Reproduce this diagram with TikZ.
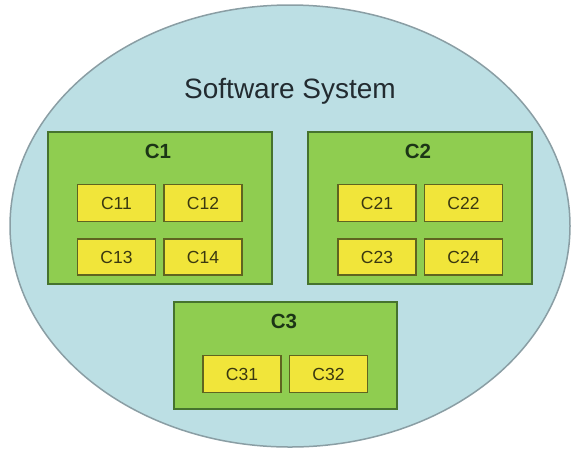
\documentclass[tikz,border=0pt]{standalone}
\usepackage{fontspec}
\setmainfont{Liberation Sans}
\usetikzlibrary{shapes.geometric}

\definecolor{sysfill}{HTML}{BCDFE4}
\definecolor{sysline}{HTML}{8A9EA4}
\definecolor{grpfill}{HTML}{8FCD50}
\definecolor{grpline}{HTML}{46732E}
\definecolor{cmpfill}{HTML}{F1E53A}
\definecolor{cmpline}{HTML}{5F6420}
\definecolor{titletext}{HTML}{222B30}
\definecolor{grptext}{HTML}{1C3516}
\definecolor{cmptext}{HTML}{3A3810}

\tikzset{
  system/.style={ellipse, draw=sysline, fill=sysfill, line width=1.5pt,
    minimum width=560pt, minimum height=442pt, inner sep=0pt},
  group/.style={rectangle, draw=grpline, fill=grpfill, line width=1.8pt, inner sep=0pt},
  comp/.style={rectangle, draw=cmpline, fill=cmpfill, line width=1.8pt, inner sep=0pt,
    minimum width=78pt, minimum height=37pt,
    font=\fontsize{17.5}{20}\selectfont, text=cmptext},
  grplabel/.style={font=\fontsize{20.5}{24}\selectfont\bfseries, text=grptext, inner sep=0pt},
  title/.style={font=\fontsize{28}{32}\selectfont, text=titletext, inner sep=0pt}
}

\begin{document}
\begin{tikzpicture}[x=1pt, y=-1pt]
  \useasboundingbox (0,0) rectangle (572,448);

  % the whole system
  \node[system] (sys) at (290,226) {};
  \node[title] (systitle) at (290,91) {Software System};

  % subsystem C1
  \node[group, minimum width=224pt, minimum height=152pt] (g1) at (160,208) {};
  \node[grplabel] (l1) at (158,151) {C1};
  \node[comp] (c11) at (116.5,203) {C11};
  \node[comp] (c12) at (203,203) {C12};
  \node[comp, minimum height=36pt] (c13) at (116.5,257) {C13};
  \node[comp, minimum height=36pt] (c14) at (203,257) {C14};

  % subsystem C2
  \node[group, minimum width=224pt, minimum height=152pt] (g2) at (420,208) {};
  \node[grplabel] (l2) at (418,151) {C2};
  \node[comp] (c21) at (377,203) {C21};
  \node[comp] (c22) at (463.5,203) {C22};
  \node[comp, minimum height=36pt] (c23) at (377,257) {C23};
  \node[comp, minimum height=36pt] (c24) at (463.5,257) {C24};

  % subsystem C3
  \node[group, minimum width=223pt, minimum height=107pt] (g3) at (285.5,355.5) {};
  \node[grplabel] (l3) at (284,321) {C3};
  \node[comp] (c31) at (242,374) {C31};
  \node[comp] (c32) at (328.5,374) {C32};
\end{tikzpicture}
\end{document}
